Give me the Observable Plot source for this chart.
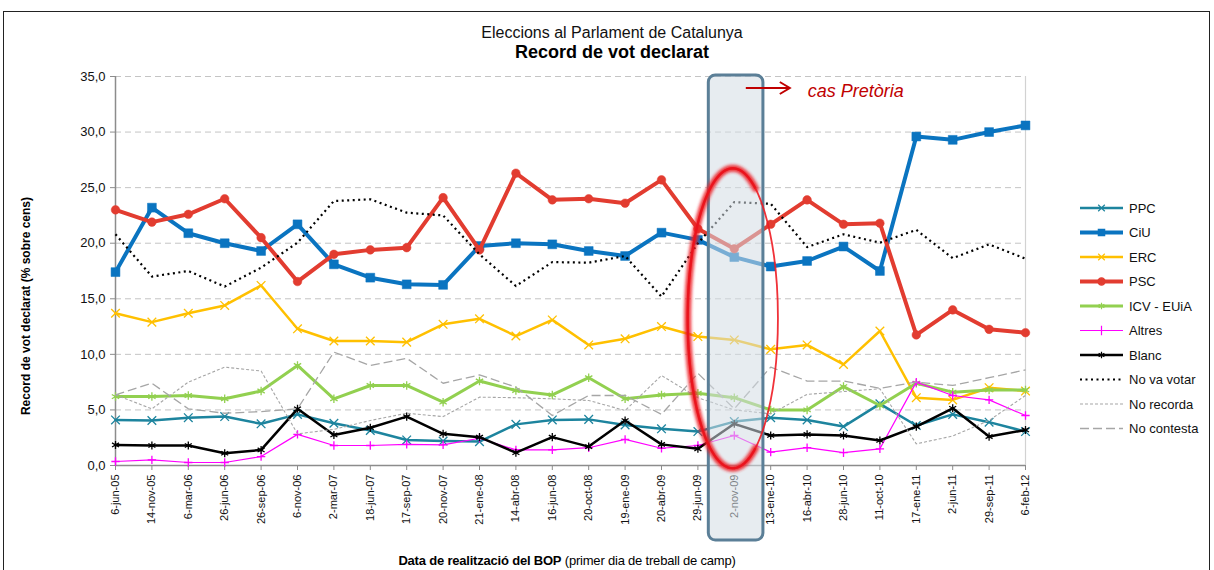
<!DOCTYPE html>
<html>
<head>
<meta charset="utf-8">
<script src="https://cdn.jsdelivr.net/npm/d3@7"></script>
<script src="https://cdn.jsdelivr.net/npm/@observablehq/plot@0.6"></script>
<style>
  body { margin: 0; background: #fff; font-family: "Liberation Sans", Arial, sans-serif; }
  #wrap { position: relative; width: 1214px; height: 570px; overflow: hidden; background: #fff; }
  #frame { position: absolute; left: 3px; top: 11px; width: 1207px; height: 620px; border: 1px solid #222; box-sizing: border-box; }
  #t1 { position: absolute; left: 0; width: 1224px; top: 24px; line-height: 18px; font-size: 16px; text-align: center; color: #111; }
  #t2 { position: absolute; left: 0; width: 1224px; top: 42px; line-height: 20px; font-size: 18px; font-weight: bold; text-align: center; color: #000; }
  #chart { position: absolute; left: 0; top: 60px; }
  #ylab { position: absolute; left: -124px; top: 298px; width: 300px; line-height: 16px; text-align: center; font-size: 12px; font-weight: bold; transform: rotate(-90deg); transform-origin: 150px 8px; color: #000; }
  #xlab { position: absolute; left: 267px; top: 553px; width: 600px; line-height: 16px; text-align: center; font-size: 13px; color: #000; letter-spacing: -0.2px; }
  #legend { position: absolute; left: 1070px; top: 190px; }
</style>
</head>
<body>
<div id="wrap">
  <div id="frame"></div>
  <div id="t1">Eleccions al Parlament de Catalunya</div>
  <div id="t2">Record de vot declarat</div>
  <div id="chart"></div>
  <div id="ylab">Record de vot declarat (% sobre cens)</div>
  <div id="xlab"><b>Data de realització del BOP</b> (primer dia de treball de camp)</div>
  <svg id="legend" width="144" height="260"></svg>
</div>
<script>
// ---------- DATA ----------
const categories = ["6-jun-05","14-nov-05","6-mar-06","26-jun-06","26-sep-06","6-nov-06","2-mar-07","18-jun-07","17-sep-07","20-nov-07","21-ene-08","14-abr-08","16-jun-08","20-oct-08","19-ene-09","20-abr-09","29-jun-09","2-nov-09","13-ene-10","16-abr-10","28-jun-10","11-oct-10","17-ene-11","2-jun-11","29-sep-11","6-feb-12"];

const ppc        = [4.1,4.05,4.3,4.4,3.75,4.6,3.8,3.15,2.3,2.2,2.15,3.7,4.1,4.15,3.65,3.3,3.05,3.95,4.3,4.1,3.5,5.55,3.6,4.6,3.9,3.05];
const ciu        = [17.4,23.2,20.9,20.0,19.3,21.7,18.1,16.9,16.3,16.25,19.75,20.0,19.9,19.3,18.85,20.95,20.3,18.75,17.9,18.4,19.7,17.5,29.6,29.3,30.0,30.6];
const erc        = [13.7,12.9,13.7,14.4,16.2,12.3,11.2,11.2,11.1,12.7,13.2,11.65,13.1,10.85,11.4,12.5,11.6,11.3,10.45,10.85,9.1,12.1,6.1,5.9,7.0,6.7];
const psc        = [23.0,21.9,22.6,24.0,20.5,16.55,19.0,19.4,19.6,24.1,19.4,26.3,23.9,24.0,23.6,25.7,21.3,19.5,21.7,23.9,21.7,21.8,11.75,14.0,12.25,11.95];
const icv        = [6.2,6.2,6.3,6.0,6.7,9.0,6.0,7.2,7.2,5.7,7.6,6.75,6.35,7.9,6.0,6.35,6.5,6.1,5.0,5.0,7.1,5.4,7.4,6.6,6.8,6.8];
const altres     = [0.36,0.5,0.27,0.27,0.8,2.8,1.8,1.8,1.9,1.85,2.45,1.4,1.4,1.6,2.35,1.55,1.8,2.7,1.2,1.6,1.15,1.5,7.5,6.3,5.9,4.5];
const blanc      = [1.85,1.8,1.8,1.1,1.4,5.1,2.75,3.4,4.4,2.85,2.55,1.15,2.55,1.7,4.05,1.9,1.5,3.75,2.7,2.8,2.7,2.25,3.5,5.15,2.6,3.2];
const noVaVotar  = [20.8,17.0,17.5,16.1,17.8,20.05,23.8,23.95,22.75,22.5,19.0,16.15,18.3,18.25,18.85,15.2,20.0,23.7,23.55,19.65,20.8,20.05,21.2,18.65,19.9,18.6];
const noRecorda  = [6.35,5.1,7.5,8.85,8.5,2.85,3.25,4.05,4.7,4.4,6.15,6.1,6.0,5.85,4.95,8.1,6.1,5.0,4.65,6.4,6.65,6.9,1.95,2.65,4.05,6.3];
const noContesta = [6.35,7.4,5.1,4.7,4.85,5.1,10.2,9.0,9.65,7.4,8.15,7.05,4.5,6.3,6.3,4.6,8.3,5.1,8.85,7.6,7.6,6.95,7.5,7.2,7.9,8.6];

const seriesNames  = ["PPC","CiU","ERC","PSC","ICV - EUiA","Altres","Blanc","No va votar","No recorda","No contesta"];
const seriesValues = [ppc, ciu, erc, psc, icv, altres, blanc, noVaVotar, noRecorda, noContesta];

const yTicks = [0,5,10,15,20,25,30,35];
const highlightCategory = "2-nov-09";
const annotationText = "cas Pretòria";

// ---------- STYLES ----------
const styles = {
  "PPC":         {color:"#1d849e", width:2.5, symbol:"times",    r:4,   fill:false},
  "CiU":         {color:"#0a74c0", width:4,   symbol:"square",   r:5,   fill:true},
  "ERC":         {color:"#ffc000", width:2.5, symbol:"times",    r:4,   fill:false},
  "PSC":         {color:"#e23c30", width:4,   symbol:"circle",   r:4.3, fill:true},
  "ICV - EUiA":  {color:"#92d050", width:3,   symbol:"asterisk", r:4,   fill:false},
  "Altres":      {color:"#ff00ff", width:1.2, symbol:"plus",     r:2.8, fill:false},
  "Blanc":       {color:"#000000", width:2.5, symbol:"asterisk", r:3.8, fill:false},
  "No va votar": {color:"#000000", width:2.2, dash:"2,3.5"},
  "No recorda":  {color:"#a6a6a6", width:1.1, dash:"3,2"},
  "No contesta": {color:"#a6a6a6", width:1.3, dash:"9,4"}
};

const rowsFor = (vals, name) => vals.map((v, i) => ({cat: categories[i], value: v, series: name}));

const seriesMarks = [];
seriesNames.forEach((name, k) => {
  const s = styles[name];
  const rows = rowsFor(seriesValues[k], name);
  seriesMarks.push(Plot.line(rows, {
    x: "cat", y: "value", stroke: s.color, strokeWidth: s.width,
    strokeDasharray: s.dash, strokeLinecap: s.dash ? "butt" : "round", strokeLinejoin: "round"
  }));
  if (s.symbol) {
    seriesMarks.push(Plot.dot(rows, {
      x: "cat", y: "value", symbol: s.symbol, r: s.r,
      fill: s.fill ? s.color : "none", stroke: s.color, strokeWidth: s.fill ? 0.5 : 1.3
    }));
  }
});

const fmt = d => d.toFixed(1).replace(".", ",");

const plot = Plot.plot({
  width: 1060, height: 490,
  marginTop: 16, marginBottom: 85, marginLeft: 115, marginRight: 35,
  style: {fontFamily: "'Liberation Sans', Arial, sans-serif", fontSize: "11px", background: "transparent", overflow: "visible", color: "#111"},
  x: {type: "point", domain: categories, padding: 0, round: false},
  y: {domain: [0, 35]},
  marks: [
    Plot.gridY({ticks: yTicks, stroke: "#c4c4c4", strokeOpacity: 1, strokeDasharray: "6,4"}),
    Plot.ruleX([categories[categories.length - 1]], {stroke: "#d2d2d2", strokeWidth: 1.2}),
    Plot.axisY({ticks: yTicks, tickFormat: fmt, tickSize: 5, tickPadding: 5, fontSize: 13, stroke: "#8c8c8c", strokeOpacity: 1, label: null}),
    Plot.axisX({tickRotate: -90, tickSize: 5, tickPadding: 4, fontSize: 11, stroke: "#8c8c8c", strokeOpacity: 1, label: null}),
    Plot.ruleX([categories[0]], {stroke: "#8c8c8c", strokeWidth: 1.5}),
    Plot.ruleY([0], {stroke: "#8c8c8c", strokeWidth: 1.5}),
    ...seriesMarks
  ]
});
document.getElementById("chart").appendChild(plot);

// ---------- ANNOTATIONS (positioned through the plot scales) ----------
const sx = plot.scale("x"), sy = plot.scale("y");
const svg = d3.select(plot);
const cx = sx.apply(highlightCategory);
const step = (sx.range[1] - sx.range[0]) / (categories.length - 1);
const yTop = sy.apply(35), yBase = sy.apply(0);

const defs = svg.append("defs");
defs.append("filter").attr("id", "blur").attr("x", "-20%").attr("y", "-20%").attr("width", "140%").attr("height", "140%")
  .append("feGaussianBlur").attr("stdDeviation", 1.6);

// highlight box
svg.append("rect")
  .attr("x", cx - 0.70 * step).attr("y", yTop - 1)
  .attr("width", 1.50 * step).attr("height", yBase - yTop + 76)
  .attr("rx", 7).attr("ry", 7)
  .attr("fill", "#d3dce3").attr("fill-opacity", 0.55)
  .attr("stroke", "#5b7f97").attr("stroke-width", 3);

// red hand-drawn ellipse
const ecx = cx - 1, ecy = sy.apply(13.2), erx = 1.24 * step, ery = yBase - sy.apply(13.5);
svg.append("ellipse").attr("cx", ecx).attr("cy", ecy).attr("rx", erx).attr("ry", ery)
  .attr("fill", "none").attr("stroke", "#ee1c24").attr("stroke-width", 1.8).attr("opacity", 0.9);
const arcPts = d3.range(-60, -301, -3).map(a => {
  const t = a * Math.PI / 180;
  return [ecx + erx * Math.cos(t), ecy + ery * Math.sin(t)];
});
svg.append("path").attr("d", d3.line()(arcPts))
  .attr("fill", "none").attr("stroke", "#ee1c24").attr("stroke-width", 7)
  .attr("stroke-linecap", "round").attr("filter", "url(#blur)").attr("opacity", 0.85);
svg.append("path").attr("d", d3.line()(arcPts))
  .attr("fill", "none").attr("stroke", "#e8101a").attr("stroke-width", 2.5).attr("opacity", 0.8);

// arrow + label
const ay = yTop + 12;
svg.append("line").attr("x1", cx + 12).attr("x2", cx + 55).attr("y1", ay).attr("y2", ay)
  .attr("stroke", "#c00000").attr("stroke-width", 2);
svg.append("path").attr("d", `M${cx + 46},${ay - 6} L${cx + 56},${ay} L${cx + 46},${ay + 6}`)
  .attr("fill", "none").attr("stroke", "#c00000").attr("stroke-width", 2);
svg.append("text").attr("x", cx + 74).attr("y", ay + 9)
  .attr("text-anchor", "start")
  .attr("fill", "#c00000").attr("font-size", 18).attr("font-style", "italic")
  .attr("font-family", "'Liberation Sans', Arial, sans-serif")
  .text(annotationText);

// ---------- LEGEND ----------
const symMap = {square: d3.symbolSquare, circle: d3.symbolCircle, times: d3.symbolTimes, plus: d3.symbolPlus, asterisk: d3.symbolAsterisk};
const leg = d3.select("#legend");
seriesNames.forEach((name, i) => {
  const s = styles[name];
  const y = 18 + i * 24.5;
  leg.append("line").attr("x1", 10).attr("x2", 53).attr("y1", y).attr("y2", y)
    .attr("stroke", s.color).attr("stroke-width", s.width)
    .attr("stroke-dasharray", s.dash || null);
  if (s.symbol) {
    leg.append("path").attr("transform", `translate(31.5,${y})`)
      .attr("d", d3.symbol(symMap[s.symbol], s.fill ? 40 : 30)())
      .attr("fill", s.fill ? s.color : "none").attr("stroke", s.color).attr("stroke-width", 1.2);
  }
  leg.append("text").attr("x", 59).attr("y", y).attr("dy", "0.35em")
    .attr("font-size", 13).attr("fill", "#111")
    .attr("font-family", "'Liberation Sans', Arial, sans-serif")
    .text(name);
});
</script>
</body>
</html>
